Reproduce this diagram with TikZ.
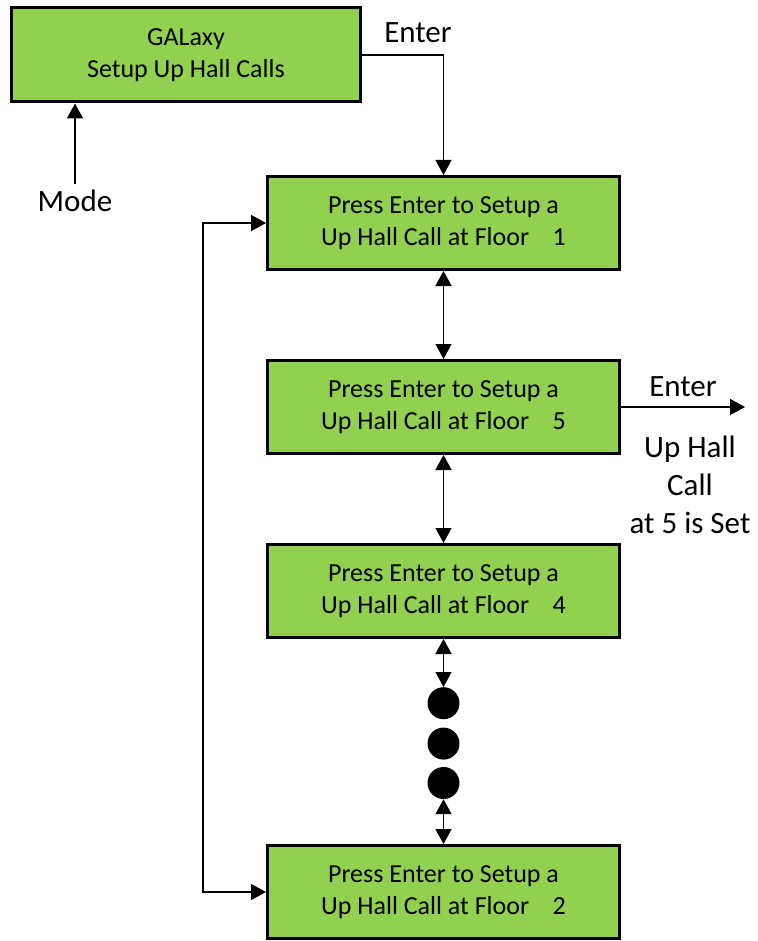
\documentclass[tikz,border=0pt]{standalone}
\usepackage{fontspec}
\setmainfont{Carlito}
\usepackage{tikz}
\usetikzlibrary{arrows.meta,positioning,calc}
\definecolor{boxgreen}{HTML}{92D050}

\begin{document}
\begin{tikzpicture}[
    x=1pt, y=-1pt,
    node distance=88pt,
    screen/.style={rectangle, draw=black, fill=boxgreen, line width=3pt, minimum width=352pt, minimum height=93pt, text centered, align=center, font=\fontsize{26}{32}\selectfont},
    label/.style={font=\fontsize{31}{38}\selectfont, align=center, inner sep=0pt},
    dot/.style={circle, fill=black, minimum size=32pt, inner sep=0pt},
    arrow/.style={-{Triangle[length=15pt,width=16pt]}, line width=1.5pt},
    biarrow/.style={{Triangle[length=15pt,width=16pt]}-{Triangle[length=15pt,width=16pt]}, line width=1.5pt}
]
\useasboundingbox (0,0) rectangle (757,941);

% Screens
\node (menu) [screen, minimum width=349pt, minimum height=94pt] at (186,55) {GALaxy\\Setup Up Hall Calls};
\node (floorA) [screen] at (443.5,223) {Press Enter to Setup a\\Up Hall Call at Floor\hspace{0.9em}1};
\node (floorE) [screen, below=of floorA] {Press Enter to Setup a\\Up Hall Call at Floor\hspace{0.9em}5};
\node (floorD) [screen, below=of floorE] {Press Enter to Setup a\\Up Hall Call at Floor\hspace{0.9em}4};
\node (floorB) [screen, below=205pt of floorD] {Press Enter to Setup a\\Up Hall Call at Floor\hspace{0.9em}2};

% Dots
\node (dotA) [dot, below=48pt of floorD] {};
\node (dotB) [dot, below=8pt of dotA] {};
\node (dotC) [dot, below=7pt of dotB] {};

% Labels
\node (mode) [label] at (75,201) {Mode};
\node (enterA) [label] at (418,33) {Enter};
\node (enterB) [label] at (683,387) {Enter};
\node (isset) [label] at (690,485) {Up Hall\\Call\\at 5 is Set};
\coordinate (loopx) at (203,0);
\coordinate (outx) at (745,0);

% Connections
\draw[arrow] (mode.north) ++(0,-6) -- (mode |- menu.south);
\draw[arrow] (menu.east) -| (floorA.north);
\draw[biarrow] (floorA) -- (floorE);
\draw[biarrow] (floorE) -- (floorD);
\draw[biarrow] (floorD) -- (dotA);
\draw[biarrow] (dotC) -- (floorB);
\draw[arrow] (floorE.east) -- (floorE.east -| outx);
\draw[biarrow] (floorA.west) -- (floorA.west -| loopx) -- (floorB.west -| loopx) -- (floorB.west);

\end{tikzpicture}
\end{document}
